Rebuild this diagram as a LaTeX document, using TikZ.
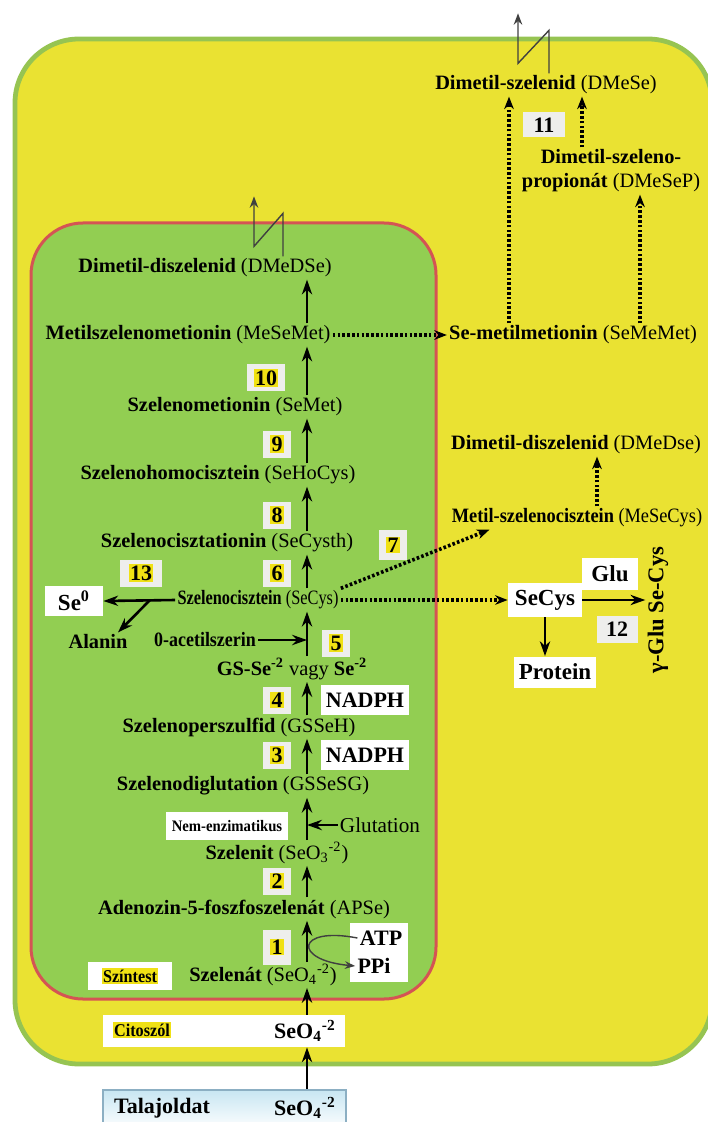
\documentclass[tikz,border=0pt]{standalone}
\usepackage{fontspec}
\setmainfont{Liberation Serif}
\usepackage{xcolor}
\usetikzlibrary{arrows.meta,calc,positioning}

\definecolor{cellyellow}{RGB}{234,226,50}
\definecolor{cellrim}{RGB}{150,196,82}
\definecolor{plastgreen}{RGB}{146,206,82}
\definecolor{plastrim}{RGB}{212,84,84}
\definecolor{hlyellow}{RGB}{240,225,20}
\definecolor{numgray}{RGB}{238,238,236}
\definecolor{soilblue}{RGB}{200,230,242}
\definecolor{soilrim}{RGB}{140,175,195}

\newcommand{\hl}[1]{{\setlength{\fboxsep}{0.6pt}\colorbox{hlyellow}{#1}}}
\newcommand{\narrow}[2]{\scalebox{#1}[1]{#2}}

\begin{document}
\begin{tikzpicture}[
  x=0.5pt,y=-0.5pt,
  >=Stealth,
  every node/.style={font=\fontsize{10.2}{11}\selectfont,inner sep=1pt},
  flow/.style={-{Stealth[length=2.6mm,width=1.8mm]},line width=1.3pt},
  dotflow/.style={-{Stealth[length=2.2mm,width=1.7mm]},line width=1.8pt,
                  dash pattern=on 1.3pt off 1.1pt},
  squig/.style={-{Stealth[length=2mm]},line width=0.7pt,black!75},
  num/.style={fill=numgray,font=\fontsize{11}{12}\selectfont\bfseries,
              minimum width=14pt,minimum height=13.5pt,inner xsep=3.5pt},
  wbox/.style={fill=white,font=\fontsize{11.5}{12}\selectfont\bfseries,
               inner sep=2.5pt},
  big/.style={font=\fontsize{11}{12}\selectfont\bfseries},
  tag/.style={fill=white,font=\fontsize{9}{10}\selectfont\bfseries}
]
  \useasboundingbox (0,0) rectangle (707,1122);

  % compartments
  \draw[cellrim,line width=2.4pt,fill=cellyellow,rounded corners=32pt]
    (15,39) rectangle (712,1064);
  \draw[plastrim,line width=1.5pt,fill=plastgreen,rounded corners=26pt]
    (31,223) rectangle (436,999);

  \coordinate (col) at (307,0);
  \coordinate (c509) at (509,0);
  \coordinate (c582) at (582,0);
  \coordinate (c640) at (640,0);
  \coordinate (c597) at (597,0);
  \coordinate (fork) at (150,600);

  % plastid column
  \node (dmedse) at (205,268) {\textbf{Dimetil-diszelenid} (DMeDSe)};
  \node (mesemet) at (188,335) {\textbf{Metilszelenometionin} (MeSeMet)};
  \node[num] (n10) at (266,378) {\hl{10}};
  \node (semet) at (235,407) {\textbf{Szelenometionin} (SeMet)};
  \node[num] (n9) at (277,444) {\hl{9}};
  \node (sehocys) at (218,475) {\textbf{Szelenohomocisztein} (SeHoCys)};
  \node[num] (n8) at (277,515) {\hl{8}};
  \node (secysth) at (227,543) {\textbf{Szelenocisztationin} (SeCysth)};
  \node[num,minimum height=15pt] (n7) at (393,545) {\hl{7}};
  \node[num] (n6) at (277,573) {\hl{6}};
  \node (secys) at (258,600)
    {\narrow{0.8}{\textbf{Szelenocisztein} (SeCys)}};
  \node[num,minimum width=21pt] (n13) at (141,573) {\hl{13}};
  \node[wbox,minimum width=29pt,minimum height=14pt] (se0) at (74,601)
    {Se\textsuperscript{0}};
  \node (alanin) at (98,642) {\textbf{Alanin}};
  \node (oacet) at (205,640) {\narrow{0.88}{\textbf{0-acetilszerin}}};
  \node[num] (n5) at (336,643) {\hl{5}};
  \node (gsse) at (292,669)
    {\textbf{GS-Se\textsuperscript{-2}} vagy \textbf{Se\textsuperscript{-2}}};
  \node[num] (n4) at (277,700) {\hl{4}};
  \node[wbox,font=\fontsize{11}{12}\selectfont\bfseries,minimum width=43pt,
        minimum height=15pt] (nadph1) at (365,700) {NADPH};
  \node (gsseh) at (239,727) {\textbf{Szelenoperszulfid} (GSSeH)};
  \node[num] (n3) at (277,755) {\hl{3}};
  \node[wbox,font=\fontsize{11}{12}\selectfont\bfseries,minimum width=43pt,
        minimum height=15pt] (nadph2) at (365,755) {NADPH};
  \node (gssesg) at (243,786) {\textbf{Szelenodiglutation} (GSSeSG)};
  \node[tag,font=\fontsize{8}{9}\selectfont\bfseries,inner sep=3pt,
        minimum height=14pt] (nemenz) at (227,826)
    {\narrow{0.92}{Nem-enzimatikus}};
  \node[font=\fontsize{10.6}{11}\selectfont] (glut) at (380,825) {Glutation};
  \node (szelenit) at (277,853)
    {\textbf{Szelenit} (SeO\textsubscript{3}\textsuperscript{-2})};
  \node[num] (n2) at (277,881) {\hl{2}};
  \node (apse) at (244,909) {\textbf{Adenozin-5-foszfoszelenát} (APSe)};
  \node[num,minimum height=17.5pt] (n1) at (277,947) {\hl{1}};
  \node[fill=white,minimum width=29pt,minimum height=29.5pt] (atpbox)
    at (379,952) {};
  \node[big] (atp) at (381,938) {ATP};
  \node[big] (ppi) at (374,966) {PPi};
  \node[tag,minimum width=42pt,minimum height=14pt] (szintest) at (130,976)
    {\hl{\narrow{0.9}{Színtest}}};
  \node (szelenat) at (263,975)
    {\textbf{Szelenát} (SeO\textsubscript{4}\textsuperscript{-2})};

  % cytosol and soil
  \node[fill=white,minimum width=121pt,minimum height=16pt] (citobox)
    at (224,1031) {};
  \node[font=\fontsize{9}{10}\selectfont\bfseries] (cito) at (142,1030)
    {\hl{\narrow{0.9}{Citoszól}}};
  \node[big] (seo4c) at (305,1031) {SeO\textsubscript{4}\textsuperscript{-2}};
  \node[draw=soilrim,line width=0.8pt,top color=soilblue,bottom color=white,
        minimum width=121.5pt,minimum height=20pt] (talaj) at (224.5,1110) {};
  \node[big] (talajtxt) at (162,1108) {Talajoldat};
  \node[big] (seo4t) at (305,1108) {SeO\textsubscript{4}\textsuperscript{-2}};

  % cytosol side
  \node (dmese) at (546,85) {\textbf{Dimetil-szelenid} (DMeSe)};
  \node[num,minimum width=21pt,minimum height=12.5pt] (n11) at (544,125) {11};
  \node[align=center] (dmesep) at (611,171)
    {\textbf{Dimetil-szeleno-}\\[1pt]\textbf{propionát} (DMeSeP)};
  \node (sememet) at (573,335) {\textbf{Se-metilmetionin} (SeMeMet)};
  \node (dmedse2) at (576,445) {\textbf{Dimetil-diszelenid} (DMeDse)};
  \node (mesecys) at (577,518)
    {\narrow{0.9}{\textbf{Metil-szelenocisztein} (MeSeCys)}};
  \node[wbox,minimum width=37pt,minimum height=17pt] (secys2) at (545,600)
    {SeCys};
  \node[wbox,minimum width=28pt,minimum height=16pt] (glu) at (610,574)
    {Glu};
  \node[num,minimum width=20.5pt] (n12) at (617,629) {12};
  \node[rotate=90,font=\fontsize{11.3}{12}\selectfont\bfseries] (gglu)
    at (658,610) {γ-Glu Se-Cys};
  \node[wbox,minimum width=40pt,minimum height=15.5pt] (protein)
    at (555,672) {Protein};

  % main pathway
  \draw[flow] (talaj.north -| col) -- (citobox.south -| col);
  \draw[flow] (citobox.north -| col) -- (szelenat.south -| col);
  \draw[flow] (szelenat.north -| col) -- (apse.south -| col);
  \draw[flow] (apse.north -| col) -- (szelenit.south -| col);
  \draw[flow] (szelenit.north -| col) -- (gssesg.south -| col);
  \draw[flow] (gssesg.north -| col) -- (gsseh.south -| col);
  \draw[flow] (gsseh.north -| col) -- (gsse.south -| col);
  \draw[flow] (gsse.north -| col) -- (secys.south -| col);
  \draw[flow] (secys.north -| col) -- (secysth.south -| col);
  \draw[flow] (secysth.north -| col) -- (sehocys.south -| col);
  \draw[flow] (sehocys.north -| col) -- (semet.south -| col);
  \draw[flow] (semet.north -| col) -- (mesemet.south -| col);
  \draw[flow] (mesemet.north -| col) -- (dmedse.south -| col);
  \draw[flow] (glut.west) -- (glut.west -| col);
  \draw[flow] (oacet.east) -- (oacet.east -| col);
  \draw[flow] (secys.west) -- (se0.east);
  \draw[flow] (fork) -- ([xshift=10pt]alanin.north);
  \draw[black!75,line width=0.7pt,-{Stealth[length=1.8mm]}]
    (atp.west) .. controls (296,926) and (292,960) .. (ppi.west);

  % volatile and side branches
  \draw[dotflow] (mesemet.east) -- (sememet.west);
  \draw[dotflow] (sememet.north -| c509) -- (dmese.south -| c509);
  \draw[dotflow] (dmesep.north -| c582) -- (dmese.south -| c582);
  \draw[dotflow] (sememet.north -| c640) -- (dmesep.south -| c640);
  \draw[dotflow] (secys.east) -- (secys2.west);
  \draw[dotflow] (secys.north east) -- ([xshift=20pt]mesecys.south west);
  \draw[dotflow] (mesecys.north -| c597) -- (dmedse2.south -| c597);
  \draw[flow] (secys2.east) -- (secys2.east -| gglu.north);
  \draw[flow] (secys2.south) -- (secys2.south |- protein.north);

  % escape to air
  \draw[squig] ([xshift=39pt]dmedse.north) -- ++(0,-43) -- ++(-29,33)
    -- ++(0,-50);
  \draw[squig] (dmese.north -| c582) ++(-33,0) -- ++(0,-43) -- ++(-31,33)
    -- ++(0,-50);
\end{tikzpicture}
\end{document}
